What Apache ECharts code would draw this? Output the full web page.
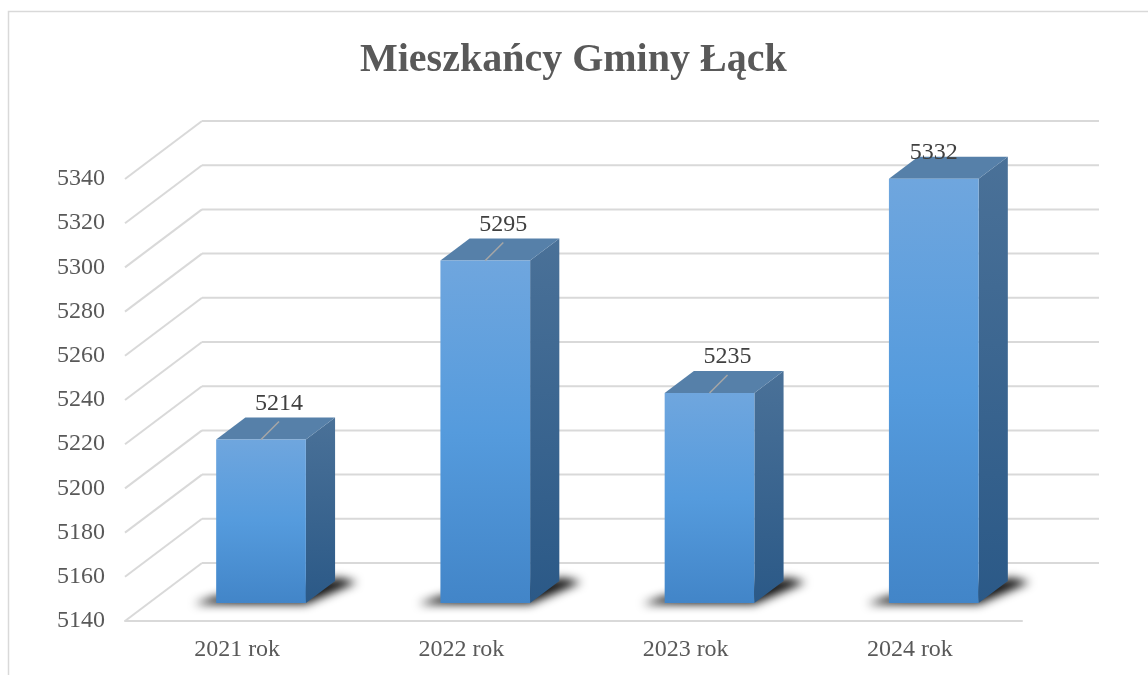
<!DOCTYPE html>
<html>
<head>
<meta charset="utf-8">
<script src="https://cdn.jsdelivr.net/npm/echarts@6/dist/echarts.min.js"></script>
<style>html,body{margin:0;padding:0;background:#fff}#c{width:1148px;height:675px}</style>
</head>
<body>
<div id="c"></div>
<script>
const titleText = 'Mieszkańcy Gminy Łąck';
const categories = ['2021 rok', '2022 rok', '2023 rok', '2024 rok'];
const values = [5214, 5295, 5235, 5332];
const yTicks = [5140, 5160, 5180, 5200, 5220, 5240, 5260, 5280, 5300, 5320, 5340];

const yMin = yTicks[0], yMax = yTicks[yTicks.length - 1];
const DX = 77, DY = 58;          // floor depth (px)
const F0 = 18 / 58, F1 = 40 / 58; // bar front/back depth fraction
const FONT = '"Liberation Serif", "Times New Roman", serif';
const GRID = '#d9d9d9';
const OFF = 3000; // draw shadow source off-canvas, show only its blur

const chart = echarts.init(document.getElementById('c'));

function renderGrid(params, api) {
  const cs = params.coordSys;
  const p = api.coord([0, api.value(1)]);
  const y = p[1];
  const x0 = cs.x, x1 = cs.x + cs.width;
  return {
    type: 'group',
    children: [
      { type: 'line', shape: { x1: x0, y1: y, x2: x0 + DX, y2: y - DY },
        style: { stroke: GRID, lineWidth: 2 } },
      { type: 'line', shape: { x1: x0 + DX, y1: y - DY, x2: x1 + DX, y2: y - DY },
        style: { stroke: GRID, lineWidth: 2 } }
    ]
  };
}

function renderBar(params, api) {
  const i = api.value(0), v = api.value(1);
  const base = api.coord([i, yMin]);
  const top = api.coord([i, v]);
  const backTop = api.coord([0, yMax])[1] - DY;
  const bw = api.size([1, 0])[0] * 0.4;
  const xL = base[0] - bw / 2 + F0 * DX;
  const xR = xL + bw;
  const yT = top[1] - F0 * DY;
  const yB = base[1] - F0 * DY;
  const bx = (F1 - F0) * DX, by = -(F1 - F0) * DY;
  const cx = xL + bw / 2;

  let lx = cx + 18, ly = yT - 36, leader = true;
  if (ly < backTop + 32) { lx = cx; ly = backTop + 32; leader = false; }

  const shadowPts = [[xL - 22, yB + 1], [xR, yB + 1], [xR + bx + 22, yB + by + 1],
    [xR + bx + 4, yB + by - 3], [xL - 2, yB - 6]].map(p => [p[0] - OFF, p[1]]);
  const children = [
    { type: 'polygon', z2: 1,
      shape: { points: shadowPts },
      style: { fill: '#000', shadowBlur: 10, shadowOffsetX: OFF, shadowColor: 'rgba(0,0,0,0.95)' } },
    { type: 'polygon', z2: 2,
      shape: { points: [[xR, yT], [xR + bx, yT + by], [xR + bx, yB + by], [xR, yB]] },
      style: { fill: new echarts.graphic.LinearGradient(0, 0, 0, 1, [
        { offset: 0, color: '#4a7198' }, { offset: 1, color: '#2b5987' }]) } },
    { type: 'polygon', z2: 2,
      shape: { points: [[xL, yT], [xR, yT], [xR + bx, yT + by], [xL + bx, yT + by]] },
      style: { fill: '#5680a9' } },
    { type: 'rect', z2: 3,
      shape: { x: xL, y: yT, width: bw, height: yB - yT },
      style: { fill: new echarts.graphic.LinearGradient(0, 0, 0, 1, [
        { offset: 0, color: '#6fa6de' }, { offset: 0.5, color: '#559bdd' }, { offset: 1, color: '#4285c8' }]) } },
    { type: 'text', z2: 6,
      style: { text: String(v), x: lx, y: ly, align: 'center', verticalAlign: 'middle',
        font: '24px ' + FONT, fill: '#404040' } }
  ];
  if (leader) {
    children.push({ type: 'line', z2: 5,
      shape: { x1: cx, y1: yT, x2: lx, y2: ly + 18 },
      style: { stroke: '#a6a6a6', lineWidth: 1.5 } });
  }
  return { type: 'group', children };
}

chart.setOption({
  backgroundColor: '#ffffff',
  animation: false,
  title: {
    text: titleText,
    left: 355, top: 36,
    textStyle: { fontFamily: FONT, fontSize: 40, fontWeight: 'bold', color: '#595959' }
  },
  graphic: [
    { type: 'rect', silent: true, shape: { x: 8.5, y: 11.5, width: 1200, height: 700 },
      style: { fill: 'none', stroke: '#d9d9d9', lineWidth: 1.5 } }
  ],
  grid: { left: 125, right: 126, top: 179, bottom: 54 },
  xAxis: {
    type: 'category',
    data: categories,
    axisLine: { show: true, lineStyle: { color: GRID, width: 2 } },
    axisTick: { show: false },
    axisLabel: { margin: 17, fontFamily: FONT, fontSize: 24, color: '#595959' },
    splitLine: { show: false }
  },
  yAxis: {
    type: 'value',
    min: yMin, max: yMax, interval: 20,
    axisLine: { show: false },
    axisTick: { show: false },
    splitLine: { show: false },
    axisLabel: { margin: 20, fontFamily: FONT, fontSize: 24, color: '#595959',
      formatter: (v) => yTicks.includes(v) ? String(v) : '' }
  },
  series: [
    { type: 'custom', name: 'grid', silent: true, z: 1,
      data: yTicks.map(v => [0, v]), renderItem: renderGrid },
    { type: 'custom', name: 'Mieszkańcy', z: 3,
      data: values.map((v, i) => [i, v]), renderItem: renderBar }
  ]
});
</script>
</body>
</html>
